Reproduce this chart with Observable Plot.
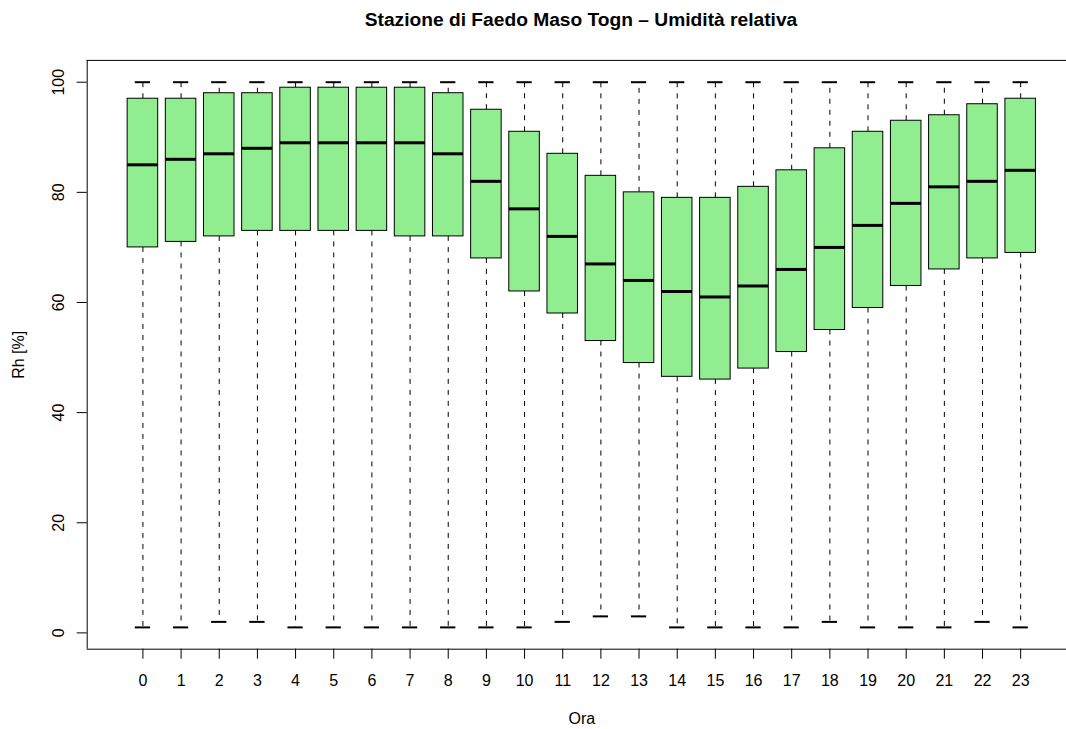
<!DOCTYPE html>
<html>
<head>
<meta charset="utf-8">
<script src="https://cdn.jsdelivr.net/npm/d3@7"></script>
<script src="https://cdn.jsdelivr.net/npm/@observablehq/plot@0.6"></script>
<style>
  html, body { margin: 0; padding: 0; background: #fff; overflow: hidden; }
  #title {
    box-sizing: border-box;
    width: 1066px; height: 40px; line-height: 40px;
    padding-left: 96px; text-align: center;
    font-family: "Liberation Sans", Arial, sans-serif;
    font-weight: bold; font-size: 19.2px; color: #000;
  }
</style>
</head>
<body>
<div id="title">Stazione di Faedo Maso Togn – Umidità relativa</div>
<div id="chart"></div>
<script>
// Hours of the day (categories)
const hours = [0,1,2,3,4,5,6,7,8,9,10,11,12,13,14,15,16,17,18,19,20,21,22,23];
// Box-plot statistics of relative humidity [%]
const whiskerHigh = [100,100,100,100,100,100,100,100,100,100,100,100,100,100,100,100,100,100,100,100,100,100,100,100];
const upperQuartile = [97,97,98,98,99,99,99,99,98,95,91,87,83,80,79,79,81,84,88,91,93,94,96,97];
const median = [85,86,87,88,89,89,89,89,87,82,77,72,67,64,62,61,63,66,70,74,78,81,82,84];
const lowerQuartile = [70,71,72,73,73,73,73,72,72,68,62,58,53,49,46.5,46,48,51,55,59,63,66,68,69];
const whiskerLow = [1,1,2,2,1,1,1,1,1,1,1,2,3,3,1,1,1,1,2,1,1,1,2,1];
// Axis tick values
const yTicks = [0,20,40,60,80,100];
const xTickLabels = hours.map(String);

const data = hours.map((h, i) => ({
  hour: h, hi: whiskerHigh[i], q3: upperQuartile[i], med: median[i],
  q1: lowerQuartile[i], lo: whiskerLow[i]
}));

// R-style 4% axis extension
const yMinData = d3.min(whiskerLow), yMaxData = d3.max(whiskerHigh);
const yPad = 0.04 * (yMaxData - yMinData);
const yLo = yMinData - yPad, yHi = yMaxData + yPad;
const xLo = 0.5 - 0.04 * hours.length + hours[0] - 1 + 0.0, xHi = hours[hours.length - 1] + 0.5 + 0.04 * hours.length;
const xStart = hours[0] - 0.5 - 0.04 * hours.length;
const boxHalf = 0.4, capHalf = 0.2;

const font = '"Liberation Sans", Arial, sans-serif';

const chart = Plot.plot({
  width: 1066,
  height: 689,
  marginTop: 0, marginBottom: 0, marginLeft: 0, marginRight: 0,
  style: {fontFamily: font, fontSize: "16px", background: "#fff", overflow: "hidden"},
  x: {type: "linear", domain: [xStart, xHi], range: [86.7, 1075.9], axis: null},
  y: {type: "linear", domain: [yLo, yHi], range: [608.7, 19.9], axis: null},
  marks: [
    // whiskers (dashed)
    Plot.ruleX(data, {x: "hour", y1: "q3", y2: "hi", stroke: "#000", strokeWidth: 1, strokeDasharray: "5,6"}),
    Plot.ruleX(data, {x: "hour", y1: "q1", y2: "lo", stroke: "#000", strokeWidth: 1, strokeDasharray: "5,6"}),
    // staples
    Plot.ruleY(data, {y: "hi", x1: d => d.hour - capHalf, x2: d => d.hour + capHalf, stroke: "#000", strokeWidth: 2}),
    Plot.ruleY(data, {y: "lo", x1: d => d.hour - capHalf, x2: d => d.hour + capHalf, stroke: "#000", strokeWidth: 2}),
    // boxes
    Plot.rect(data, {x1: d => d.hour - boxHalf, x2: d => d.hour + boxHalf, y1: "q1", y2: "q3", fill: "#90EE90", stroke: "#000", strokeWidth: 1}),
    // medians
    Plot.ruleY(data, {y: "med", x1: d => d.hour - boxHalf, x2: d => d.hour + boxHalf, stroke: "#000", strokeWidth: 3}),
    // frame (top, bottom, left)
    Plot.ruleY([yLo, yHi], {y: d => d, x1: () => xStart, x2: () => xHi, stroke: "#000", strokeWidth: 1}),
    Plot.ruleX([xStart], {x: d => d, y1: () => yLo, y2: () => yHi, stroke: "#000", strokeWidth: 1}),
    // y ticks and labels
    Plot.ruleY(yTicks, {y: d => d, x1: () => xStart, x2: () => xStart, insetLeft: -10, stroke: "#000", strokeWidth: 1}),
    Plot.text(yTicks, {x: () => xStart, y: d => d, text: d => String(d), rotate: -90, dx: -28.7, textAnchor: "middle", lineAnchor: "middle", fontSize: 16, fill: "#000"}),
    // x ticks and labels
    Plot.ruleX(hours, {x: d => d, y1: () => yLo, y2: () => yLo, insetBottom: -10, stroke: "#000", strokeWidth: 1}),
    Plot.text(hours, {x: d => d, y: () => yLo, text: (d, i) => xTickLabels[i], dy: 31.3, textAnchor: "middle", lineAnchor: "middle", fontSize: 16, fill: "#000"}),
    // axis titles
    Plot.text(["Ora"], {x: () => (hours[0] + hours[hours.length - 1]) / 2, y: () => yLo, text: d => d, dy: 69.3, textAnchor: "middle", lineAnchor: "middle", fontSize: 16, fill: "#000"}),
    Plot.text(["Rh [%]"], {x: () => xStart, y: () => (yLo + yHi) / 2, text: d => d, rotate: -90, dx: -68.7, textAnchor: "middle", lineAnchor: "middle", fontSize: 16, fill: "#000"})
  ]
});
document.getElementById("chart").appendChild(chart);
</script>
</body>
</html>
